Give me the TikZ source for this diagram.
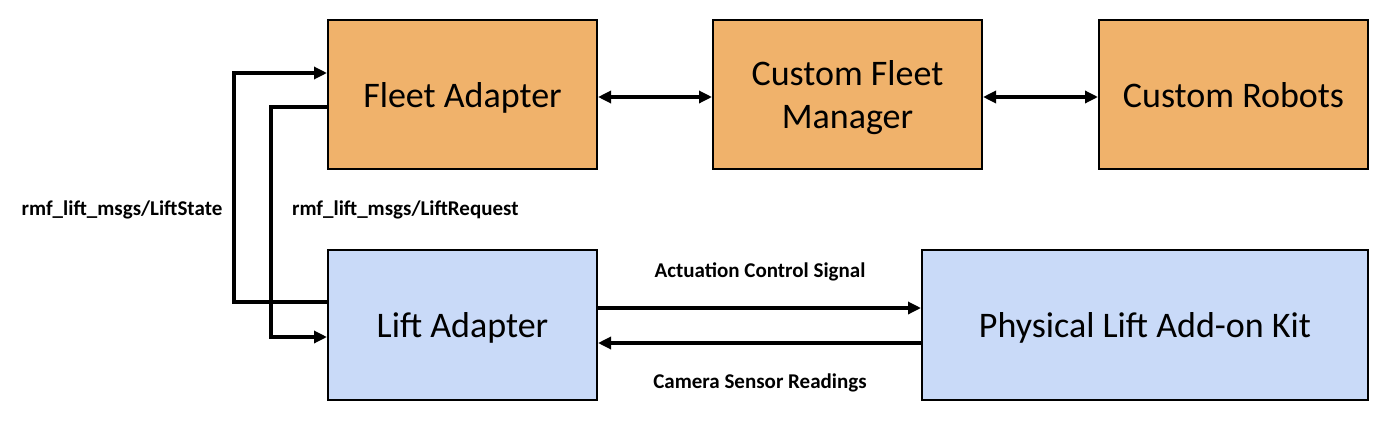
\documentclass[tikz,border=0pt]{standalone}
\usepackage{fontspec}
\setmainfont{Carlito}
\usetikzlibrary{arrows.meta}

\begin{document}
\begin{tikzpicture}[x=0.5pt, y=-0.5pt,
    fleetbox/.style={draw=black, line width=1pt, fill={rgb,255:red,240;green,178;blue,107},
      minimum width=134.5pt, minimum height=74.5pt, align=center, text depth=0pt,
      font=\fontsize{18}{21}\selectfont},
    liftbox/.style={fleetbox, fill={rgb,255:red,201;green,218;blue,248}, minimum height=75pt},
    link/.style={line width=1.6pt, -{Triangle[length=6.5pt,width=6pt]}},
    twoway/.style={line width=1.6pt, {Triangle[length=6.5pt,width=6pt]}-{Triangle[length=6.5pt,width=6pt]}},
    msg/.style={font=\fontsize{10.5}{12}\selectfont\bfseries}]
  \useasboundingbox (0,0) rectangle (1395,423);

  % top row
  \node[fleetbox] (fleet) at (462.5,94.5) {Fleet Adapter};
  \node[fleetbox] (manager) at (847.5,94.5) {Custom Fleet\\Manager};
  \node[fleetbox] (robots) at (1233.5,94.5) {Custom Robots};

  % bottom row
  \node[liftbox] (lift) at (462.5,325) {Lift Adapter};
  \node[liftbox, minimum width=223pt] (kit) at (1145,325) {Physical Lift Add-on Kit};

  \draw[twoway] ([yshift=-1.25pt]fleet.east) -- ([yshift=-1.25pt]manager.west);
  \draw[twoway] ([yshift=-1.25pt]manager.east) -- ([yshift=-1.25pt]robots.west);

  % lift messages
  \coordinate (stateX) at (234,200);
  \coordinate (requestX) at (271,200);
  \draw[link] ([yshift=11.5pt]lift.west) -| (stateX) |- ([yshift=10.75pt]fleet.west);
  \draw[link] ([yshift=-6.25pt]fleet.west) -| (requestX) |- ([yshift=-6pt]lift.west);
  \node[msg] (state) at (122,210) {rmf\_lift\_msgs/LiftState};
  \node[msg, anchor=west] (request) at (285,210) {rmf\_lift\_msgs/LiftRequest};

  % lift adapter <-> kit
  \draw[link] ([yshift=8.5pt]lift.east) -- ([yshift=8.5pt]kit.west);
  \draw[link] ([yshift=-9pt]kit.west) -- ([yshift=-9pt]lift.east);
  \node[msg] (actuation) at (760,272) {Actuation Control Signal};
  \node[msg] (camera) at (760,383) {Camera Sensor Readings};
\end{tikzpicture}
\end{document}
